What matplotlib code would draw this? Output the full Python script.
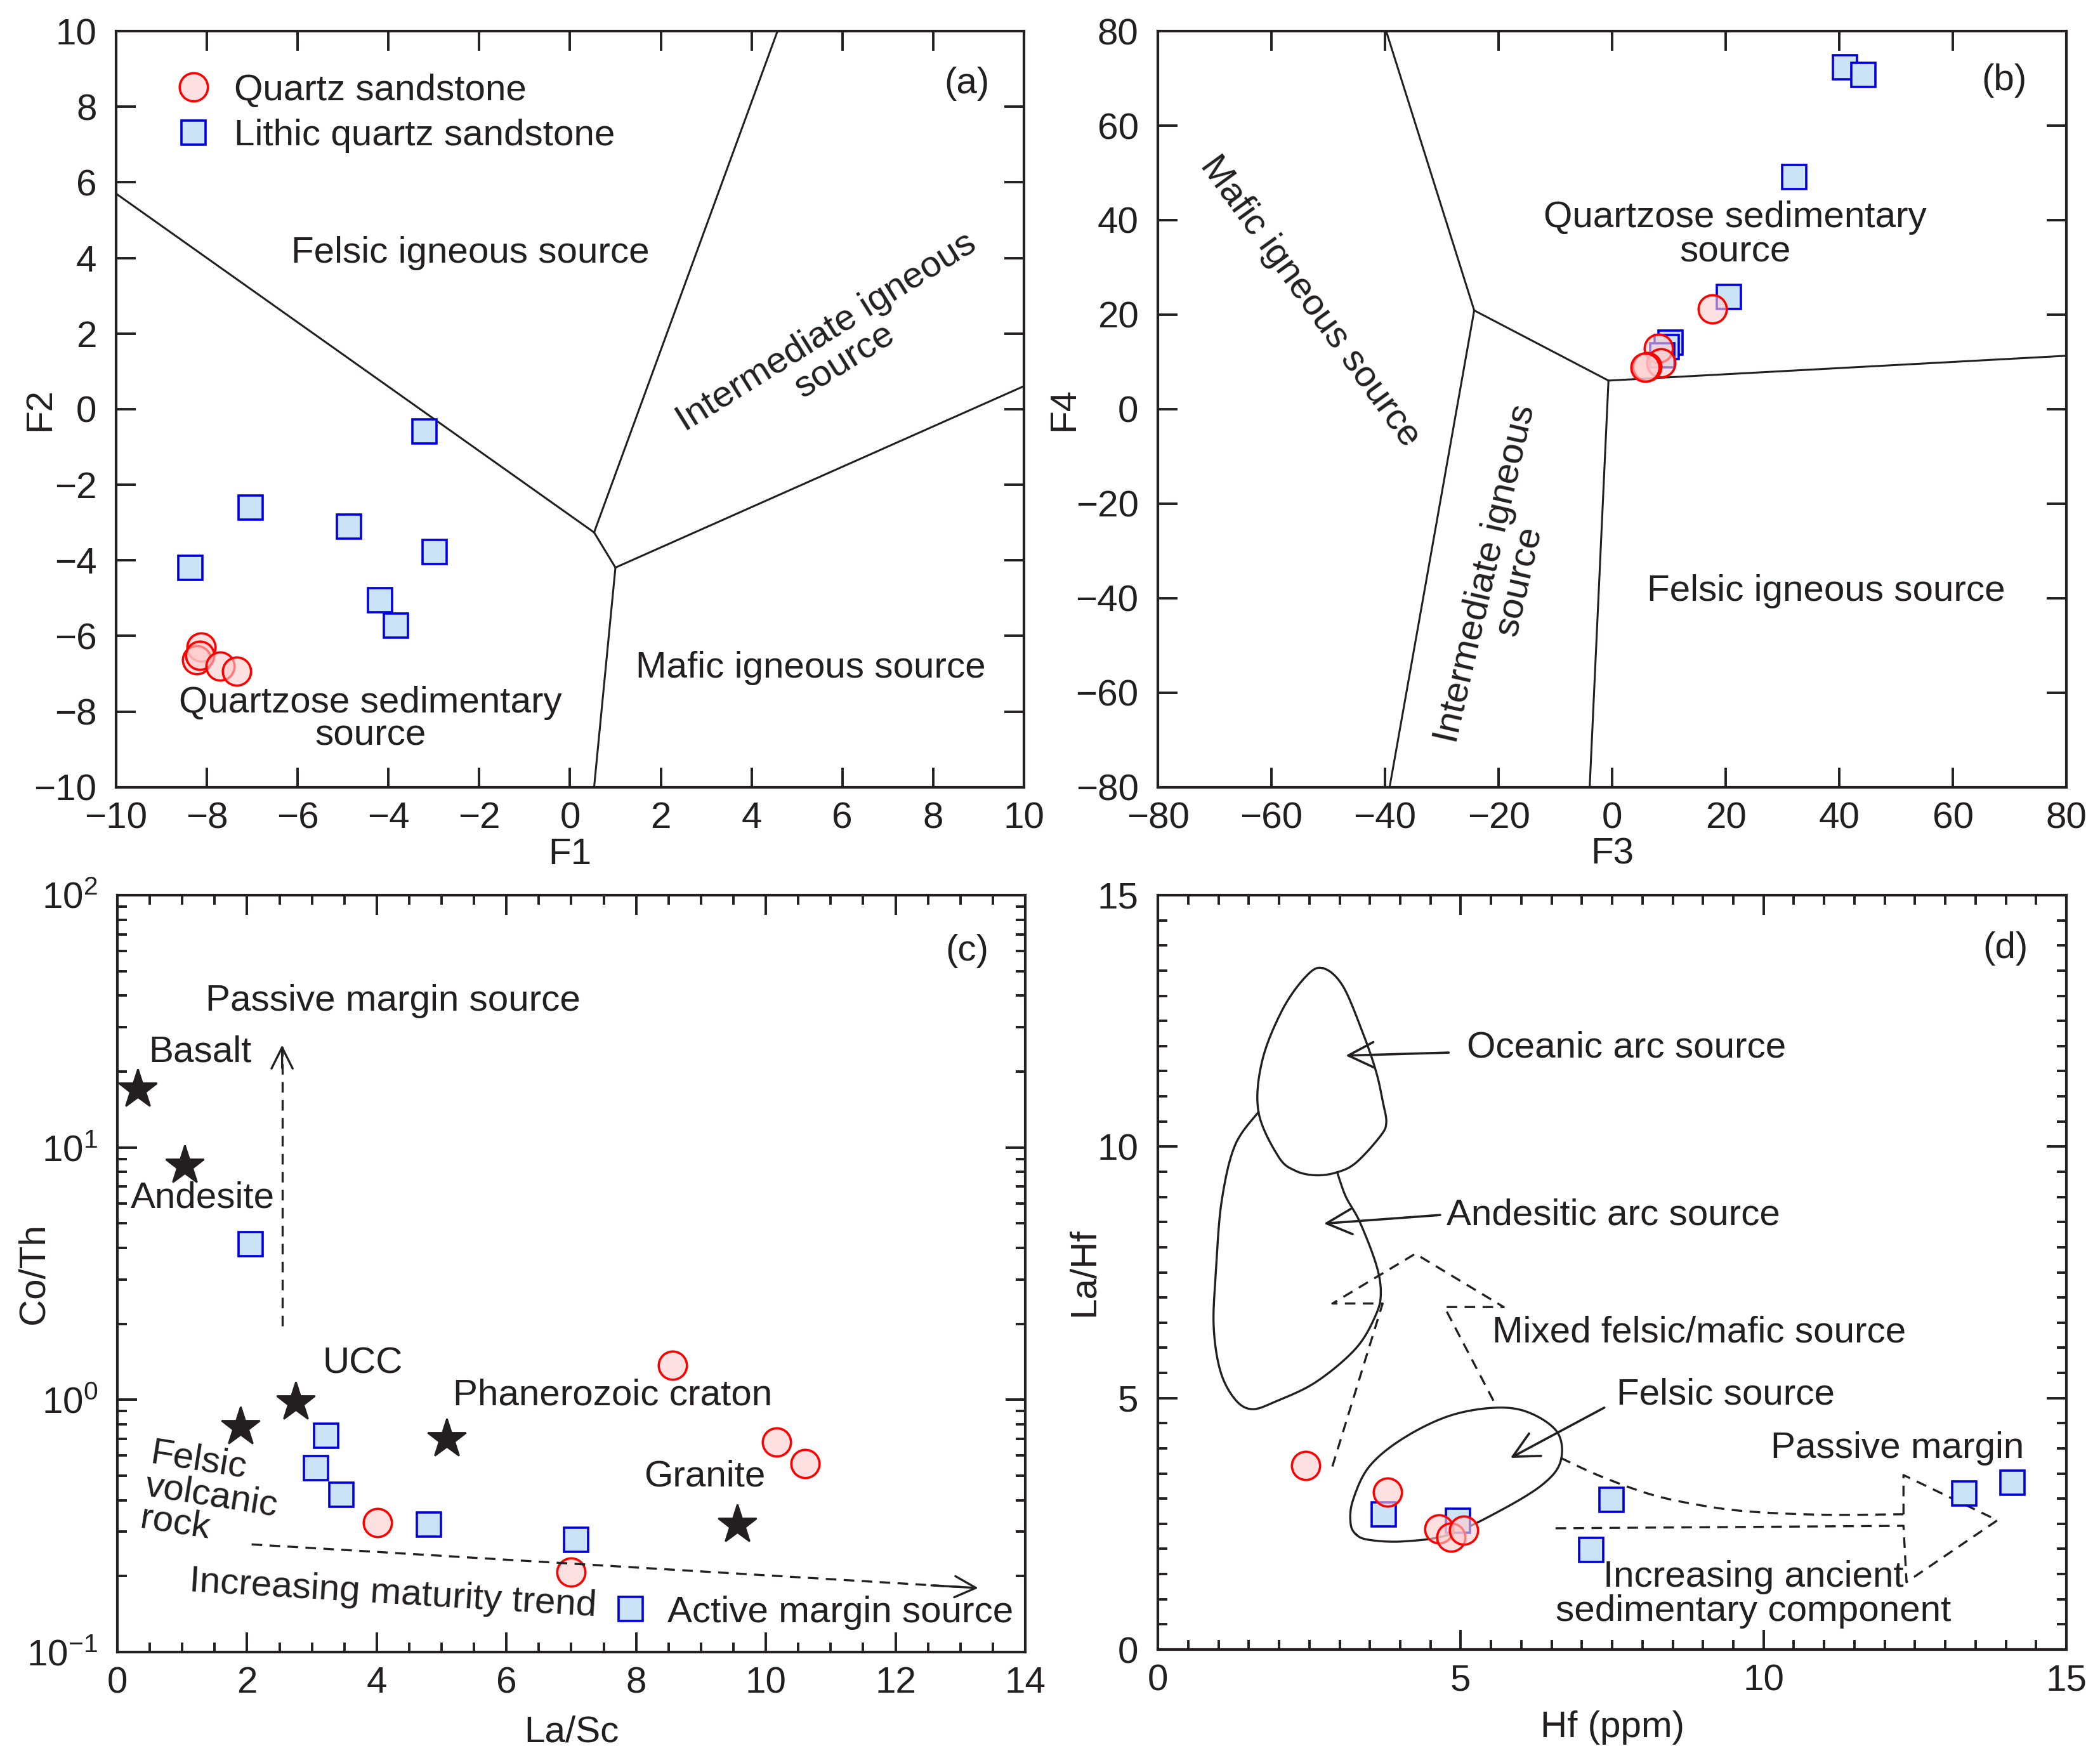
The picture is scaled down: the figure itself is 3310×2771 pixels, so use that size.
import numpy as np
from matplotlib import pyplot as plt
from matplotlib.ticker import MultipleLocator, LogLocator, NullFormatter

plt.rcParams['font.family'] = ['Liberation Sans', 'DejaVu Sans']
plt.rcParams['mathtext.fontset'] = 'custom'
plt.rcParams['mathtext.rm'] = 'Liberation Sans'
plt.rcParams['mathtext.it'] = 'Liberation Sans:italic'

INK = '#231f20'
FS = 21

# ---- (a) F1-F2 discriminant plot ----
a_qs_f1 = [-8.13, -8.22, -8.15, -7.71, -7.34]
a_qs_f2 = [-6.29, -6.63, -6.51, -6.80, -6.93]
a_lqs_f1 = [-8.37, -7.04, -4.87, -3.21, -2.99, -4.19, -3.83]
a_lqs_f2 = [-4.20, -2.61, -3.11, -0.59, -3.78, -5.06, -5.73]
a_field_x = [[-10, 0.53], [0.53, 4.57], [0.53, 1.0], [1.0, 10], [1.0, 0.53]]
a_field_y = [[5.7, -3.26], [-3.26, 10], [-3.26, -4.19], [-4.19, 0.61], [-4.19, -10]]

# ---- (b) F3-F4 ----
b_qs_f3 = [17.65, 8.2, 8.6, 6.1, 5.8]
b_qs_f4 = [21.2, 12.9, 9.8, 9.0, 8.9]
b_lqs_f3 = [41.0, 44.2, 32.1, 20.6, 10.3, 9.6, 8.8]
b_lqs_f4 = [72.4, 70.7, 49.1, 23.8, 14.1, 13.2, 11.4]
b_field_x = [[-39.8, -24.3], [-24.3, -39.2], [-24.3, -0.65], [-0.65, -3.96], [-0.65, 80]]
b_field_y = [[80, 20.9], [20.9, -80], [20.9, 6.05], [6.05, -80], [6.05, 11.3]]

# ---- (c) La/Sc vs Co/Th ----
c_qs_lasc = [8.56, 10.17, 10.61, 4.01, 7.0]
c_qs_coth = [1.37, 0.68, 0.557, 0.325, 0.207]
c_lqs_lasc = [2.05, 3.22, 3.06, 3.45, 4.80, 7.07]
c_lqs_coth = [4.13, 0.72, 0.535, 0.42, 0.32, 0.278]
c_ref_lasc = [0.31, 1.04, 1.9, 2.75, 5.08, 9.56]
c_ref_coth = [17.0, 8.5, 0.78, 0.98, 0.70, 0.32]
c_ref_names = ['Basalt', 'Andesite', 'Felsic\nvolcanic\nrock', 'UCC', 'Phanerozoic craton', 'Granite']
c_name_x = [1.28, 1.32, 1.45, 3.78, 7.64, 9.06]
c_name_y = [23.8, 6.3, 0.415, 1.39, 1.04, 0.495]
c_name_rot = [0, 0, -9, 0, 0, 0]

# ---- (d) Hf vs La/Hf ----
d_qs_hf = [2.44, 3.79, 4.64, 4.84, 5.05]
d_qs_lahf = [3.66, 3.13, 2.40, 2.23, 2.37]
d_lqs_hf = [3.73, 4.95, 7.49, 7.15, 13.31, 14.11]
d_lqs_lahf = [2.69, 2.56, 2.98, 1.98, 3.10, 3.32]

ocean_x = [2.72, 3.05, 3.38, 3.6, 3.71, 3.77, 3.66, 3.27, 2.96, 2.61, 2.27, 1.99, 1.66, 1.72, 2.05, 2.44, 2.72]
ocean_y = [13.55, 13.2, 12.27, 11.5, 10.91, 10.47, 10.19, 9.68, 9.49, 9.43, 9.52, 9.80, 10.69, 11.70, 12.71, 13.38, 13.55]
andes_x = [1.66, 1.27, 1.05, 0.96, 0.92, 1.03, 1.27, 1.55, 1.94, 2.61, 3.27, 3.6, 3.68, 3.6, 3.33, 3.1, 2.96]
andes_y = [10.69, 10.02, 8.9, 7.56, 6.44, 5.54, 4.98, 4.78, 4.93, 5.32, 5.99, 6.66, 7.11, 7.67, 8.51, 9.01, 9.49]
felsic_x = [3.27, 3.49, 4.05, 4.82, 5.71, 6.37, 6.65, 6.60, 6.15, 5.60, 4.82, 4.05, 3.49, 3.22, 3.18, 3.27]
felsic_y = [2.29, 2.18, 2.15, 2.29, 2.80, 3.30, 3.75, 4.31, 4.70, 4.81, 4.65, 4.20, 3.64, 2.97, 2.52, 2.29]
mixed_x = [2.88, 3.71, 2.88, 4.25, 5.71, 4.73, 5.6]
mixed_y = [3.64, 6.88, 6.88, 7.87, 6.81, 6.81, 4.81]
ancient_x = [6.65, 7.3, 8.15, 9.0, 9.81, 11.0, 12.31, 12.31, 13.86, 12.36, 12.31, 6.46]
ancient_y = [3.81, 3.45, 3.08, 2.86, 2.74, 2.68, 2.69, 3.47, 2.57, 1.34, 2.46, 2.41]

circ = dict(marker='o', ms=16, mfc=(1.0, 0.8, 0.8, 0.6), mec='#ff0000', mew=1.3, ls='none')
sqr = dict(marker='s', ms=13.5, mfc='#cbe3f7', mec='#0000dd', mew=1.3, ls='none')
dash = dict(color=INK, lw=1.2, ls=(0, (5, 3.5)))


def smooth(xs, ys, closed, n=12):
    # Catmull-Rom outline through the traced field vertices
    pts = np.column_stack([xs, ys])
    if closed:
        pts = pts[:-1]
        P = np.vstack([pts[-1], pts, pts[0], pts[1]])
    else:
        P = np.vstack([pts[0], pts, pts[-1]])
    t = np.linspace(0, 1, n, endpoint=False)[:, None]
    out = []
    for i in range(1, len(P) - 2):
        p0, p1, p2, p3 = P[i - 1], P[i], P[i + 1], P[i + 2]
        out.append(0.5 * (2 * p1 + (-p0 + p2) * t + (2 * p0 - 5 * p1 + 4 * p2 - p3) * t ** 2
                          + (-p0 + 3 * p1 - 3 * p2 + p3) * t ** 3))
    out.append(P[-2][None])
    c = np.vstack(out)
    return c[:, 0], c[:, 1]


fig = plt.figure(figsize=(16.55, 13.855), dpi=200)
axa = fig.add_axes([0.0553, 0.5522, 0.4323, 0.4301])
axb = fig.add_axes([0.5514, 0.5522, 0.4326, 0.4301])
axc = fig.add_axes([0.0559, 0.0603, 0.4323, 0.4305])
axd = fig.add_axes([0.5514, 0.0617, 0.4326, 0.4291])


def style(ax, xlab, ylab, xl_y, yl_x):
    for s in ax.spines.values():
        s.set_linewidth(1.5)
        s.set_color(INK)
    ax.tick_params(which='both', direction='in', top=True, right=True, colors=INK,
                   labelsize=FS, width=1.4)
    ax.tick_params(which='major', length=11)
    ax.tick_params(which='minor', length=5.5)
    ax.tick_params(axis='x', pad=8)
    ax.tick_params(axis='y', pad=11)
    ax.set_xlabel(xlab, fontsize=FS, color=INK, va='center')
    ax.set_ylabel(ylab, fontsize=FS, color=INK, va='center')
    ax.xaxis.set_label_coords(0.5, xl_y)
    ax.yaxis.set_label_coords(yl_x, 0.5)


# (a)
for xs, ys in zip(a_field_x, a_field_y):
    axa.plot(xs, ys, color=INK, lw=1.1)
axa.plot(a_qs_f1, a_qs_f2, label='Quartz sandstone', **circ)
axa.plot(a_lqs_f1, a_lqs_f2, label='Lithic quartz sandstone', **sqr)
axa.set_xlim(-10, 10)
axa.set_ylim(-10, 10)
axa.xaxis.set_major_locator(MultipleLocator(2))
axa.yaxis.set_major_locator(MultipleLocator(2))
style(axa, 'F1', 'F2', -0.089, -0.084)
axa.legend(loc='upper left', bbox_to_anchor=(0.065, 0.944), frameon=False, fontsize=FS,
           borderpad=0, borderaxespad=0, handlelength=1.0, handletextpad=0.6, labelspacing=0.3,
           labelcolor=INK)
axa.text(-2.2, 4.13, 'Felsic igneous source', fontsize=FS, color=INK, ha='center', va='center')
axa.text(5.85, 1.65, 'Intermediate igneous\nsource', fontsize=FS, color=INK, ha='center',
         va='center', rotation=32, linespacing=1.0)
axa.text(5.3, -6.85, 'Mafic igneous source', fontsize=FS, color=INK, ha='center', va='center')
axa.text(-4.4, -8.2, 'Quartzose sedimentary\nsource', fontsize=FS, color=INK, ha='center',
         va='center', linespacing=0.95)
axa.text(8.74, 8.6, '(a)', fontsize=FS, color=INK, ha='center', va='center')

# (b)
for xs, ys in zip(b_field_x, b_field_y):
    axb.plot(xs, ys, color=INK, lw=1.1)
axb.plot(b_lqs_f3, b_lqs_f4, **sqr)
axb.plot(b_qs_f3, b_qs_f4, **circ)
axb.set_xlim(-80, 80)
axb.set_ylim(-80, 80)
axb.xaxis.set_major_locator(MultipleLocator(20))
axb.yaxis.set_major_locator(MultipleLocator(20))
style(axb, 'F3', 'F4', -0.089, -0.103)
axb.text(-53.2, 22.8, 'Mafic igneous source', fontsize=FS, color=INK, ha='center', va='center',
         rotation=-54)
axb.text(-19.3, -35.6, 'Intermediate igneous\nsource', fontsize=FS, color=INK, ha='center',
         va='center', rotation=77, linespacing=1.0)
axb.text(21.7, 36.9, 'Quartzose sedimentary\nsource', fontsize=FS, color=INK, ha='center',
         va='center', linespacing=1.0)
axb.text(37.7, -38.6, 'Felsic igneous source', fontsize=FS, color=INK, ha='center', va='center')
axb.text(69, 69.5, '(b)', fontsize=FS, color=INK, ha='center', va='center')

# (c)
axc.set_yscale('log')
axc.plot(c_qs_lasc, c_qs_coth, **circ)
sq_handle, = axc.plot(c_lqs_lasc, c_lqs_coth, **sqr)
axc.plot(c_ref_lasc, c_ref_coth, marker='*', ms=23, color=INK, ls='none')
for nm, x, y, r in zip(c_ref_names, c_name_x, c_name_y, c_name_rot):
    axc.text(x, y, nm, fontsize=FS, color=INK, ha='center', va='center', rotation=r,
             linespacing=0.95, multialignment='left')
axc.plot([2.54, 2.54], [1.96, 25.0], **dash)
axc.annotate('', xy=(2.54, 26.3), xytext=(2.54, 20.0),
             arrowprops=dict(arrowstyle='->', color=INK, lw=1.2, mutation_scale=30))
axc.plot([2.07, 13.0], [0.267, 0.181], **dash)
axc.annotate('', xy=(13.33, 0.179), xytext=(12.5, 0.184),
             arrowprops=dict(arrowstyle='->', color=INK, lw=1.2, mutation_scale=30))
axc.text(4.25, 38.0, 'Passive margin source', fontsize=FS, color=INK, ha='center', va='center')
axc.text(4.25, 0.170, 'Increasing maturity trend', fontsize=FS, color=INK, ha='center',
         va='center', rotation=-3.5)
axc.text(13.1, 60, '(c)', fontsize=FS, color=INK, ha='center', va='center')
axc.legend([sq_handle], ['Active margin source'], loc='center left',
           bbox_to_anchor=(0.545, 0.052), frameon=False, fontsize=FS, borderpad=0,
           borderaxespad=0, handlelength=1.0, handletextpad=0.5, labelcolor=INK)
axc.set_xlim(0, 14)
axc.set_ylim(0.1, 100)
axc.xaxis.set_major_locator(MultipleLocator(2))
axc.xaxis.set_minor_locator(MultipleLocator(0.5))
axc.yaxis.set_major_locator(LogLocator(base=10, numticks=10))
axc.yaxis.set_minor_locator(LogLocator(base=10, subs=np.arange(2, 10), numticks=20))
axc.yaxis.set_minor_formatter(NullFormatter())
style(axc, 'La/Sc', 'Co/Th', -0.106, -0.092)

# (d)
axd.plot(*smooth(ocean_x, ocean_y, True), color=INK, lw=1.2)
axd.plot(*smooth(andes_x, andes_y, False), color=INK, lw=1.2)
axd.plot(*smooth(felsic_x, felsic_y, True), color=INK, lw=1.2)
axd.plot(mixed_x, mixed_y, **dash)
axd.plot(*smooth(ancient_x[:7], ancient_y[:7], False), **dash)
axd.plot(ancient_x[6:], ancient_y[6:], **dash)
arrow_kw = dict(arrowstyle='->', color=INK, lw=1.3, mutation_scale=36, shrinkA=0, shrinkB=0)
axd.annotate('', xy=(3.1, 11.81), xytext=(4.8, 11.87), arrowprops=arrow_kw)
axd.annotate('', xy=(2.74, 8.47), xytext=(4.66, 8.64), arrowprops=arrow_kw)
axd.annotate('', xy=(5.82, 3.81), xytext=(7.37, 4.81), arrowprops=arrow_kw)
axd.plot(d_lqs_hf, d_lqs_lahf, **sqr)
axd.plot(d_qs_hf, d_qs_lahf, **circ)
axd.text(5.1, 11.96, 'Oceanic arc source', fontsize=FS, color=INK, ha='left', va='center')
axd.text(4.77, 8.64, 'Andesitic arc source', fontsize=FS, color=INK, ha='left', va='center')
axd.text(5.52, 6.30, 'Mixed felsic/mafic source', fontsize=FS, color=INK, ha='left', va='center')
axd.text(7.57, 5.07, 'Felsic source', fontsize=FS, color=INK, ha='left', va='center')
axd.text(10.12, 4.0, 'Passive margin', fontsize=FS, color=INK, ha='left', va='center')
axd.text(9.83, 1.1, 'Increasing ancient\nsedimentary component', fontsize=FS, color=INK,
         ha='center', va='center', linespacing=1.0)
axd.text(13.99, 13.94, '(d)', fontsize=FS, color=INK, ha='center', va='center')
axd.set_xlim(0, 15)
axd.set_ylim(0, 15)
axd.xaxis.set_major_locator(MultipleLocator(5))
axd.xaxis.set_minor_locator(MultipleLocator(0.5))
axd.yaxis.set_major_locator(MultipleLocator(5))
axd.yaxis.set_minor_locator(MultipleLocator(0.5))
style(axd, 'Hf (ppm)', 'La/Hf', -0.103, -0.081)

fig.savefig('out.png', dpi=200)
